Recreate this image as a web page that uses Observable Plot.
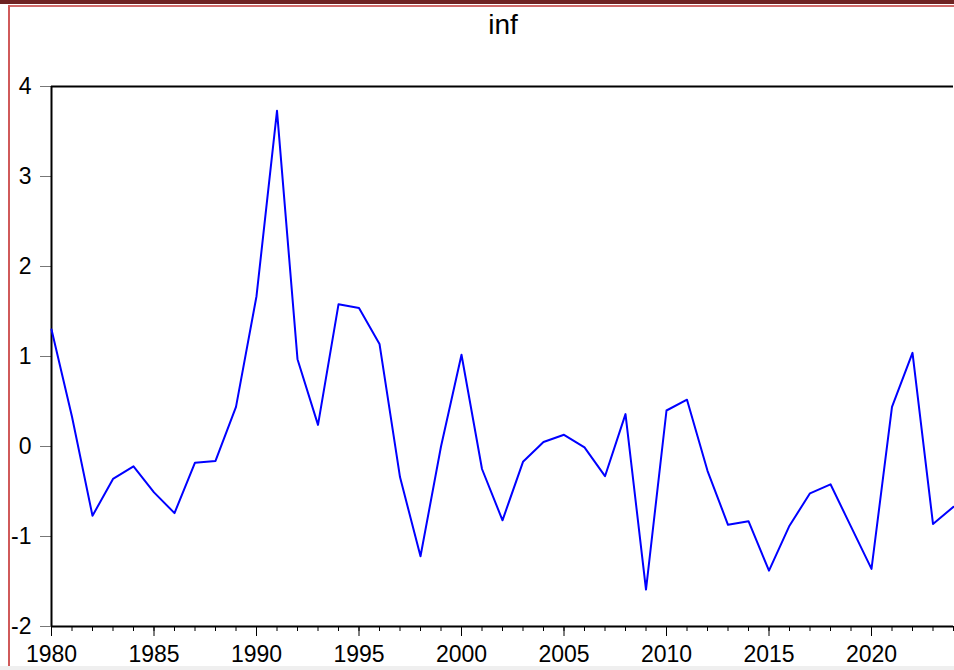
<!DOCTYPE html>
<html>
<head>
<meta charset="utf-8">
<script src="https://cdn.jsdelivr.net/npm/d3@7"></script>
<script src="https://cdn.jsdelivr.net/npm/@observablehq/plot@0.6"></script>
<style>
  html, body { margin: 0; padding: 0; background: #fff; overflow: hidden; }
  #wrap { position: relative; width: 954px; height: 670px; overflow: hidden; font-family: "Liberation Sans", Arial, sans-serif; }
  #topbar { position: absolute; left: 0; top: 0; width: 954px; height: 4px; background: #6e2222; }
  #topline { position: absolute; left: 9px; top: 5px; width: 945px; height: 2px; background: #d06a6a; }
  #leftline { position: absolute; left: 8px; top: 5px; width: 2px; height: 665px; background: #d05a5a; }
  #bottomstrip { position: absolute; left: 0; top: 666px; width: 954px; height: 4px; background: #efefef; }
  #title { position: absolute; left: 503px; top: 11px; transform: translateX(-50%); font-size: 28px; line-height: 28px; color: #000; white-space: nowrap; }
  #chart { position: absolute; left: 0; top: 0; }
</style>
</head>
<body>
<div id="wrap">
  <div id="chart"></div>
  <div id="topbar"></div>
  <div id="topline"></div>
  <div id="leftline"></div>
  <div id="bottomstrip"></div>
  <div id="title">inf</div>
</div>
<script>
const years = [1980,1981,1982,1983,1984,1985,1986,1987,1988,1989,1990,1991,1992,1993,1994,1995,1996,1997,1998,1999,2000,2001,2002,2003,2004,2005,2006,2007,2008,2009,2010,2011,2012,2013,2014,2015,2016,2017,2018,2019,2020,2021,2022,2023,2024];
const inf = [1.30,0.33,-0.77,-0.36,-0.22,-0.51,-0.74,-0.18,-0.16,0.44,1.67,3.73,0.97,0.24,1.58,1.54,1.14,-0.34,-1.22,0.00,1.02,-0.25,-0.82,-0.17,0.05,0.13,-0.01,-0.33,0.36,-1.59,0.40,0.52,-0.27,-0.87,-0.83,-1.38,-0.88,-0.52,-0.42,-0.89,-1.36,0.44,1.04,-0.86,-0.67];
const majorXTicks = [1980,1985,1990,1995,2000,2005,2010,2015,2020];
const minorXTicks = years;
const yTicks = [-2,-1,0,1,2,3,4];

const data = years.map((y, i) => ({year: y, value: inf[i]}));

const chart = Plot.plot({
  width: 954,
  height: 670,
  marginLeft: 51,
  marginRight: 1,
  marginTop: 86,
  marginBottom: 44,
  style: {fontFamily: "'Liberation Sans', Arial, sans-serif", background: "transparent", overflow: "visible"},
  x: {domain: [1980, 2024]},
  y: {domain: [-2, 4]},
  marks: [
    Plot.axisY({ticks: yTicks, tickSize: 11, tickPadding: 9, stroke: "#777", fill: "#000", fontSize: 23, tickFormat: d => String(d), label: null}),
    Plot.axisX({ticks: minorXTicks, tickSize: 5, text: null, stroke: "#000", label: null}),
    Plot.axisX({ticks: majorXTicks, tickSize: 10, tickPadding: 9, stroke: "#000", fill: "#000", fontSize: 23, tickFormat: d => String(d), label: null}),
    Plot.ruleY([4], {stroke: "#000", strokeWidth: 2}),
    Plot.ruleY([-2], {stroke: "#000", strokeWidth: 2}),
    Plot.ruleX([1980], {stroke: "#000", strokeWidth: 2}),
    Plot.line(data, {x: "year", y: "value", stroke: "#0000ff", strokeWidth: 2})
  ]
});
document.getElementById("chart").appendChild(chart);
</script>
</body>
</html>
